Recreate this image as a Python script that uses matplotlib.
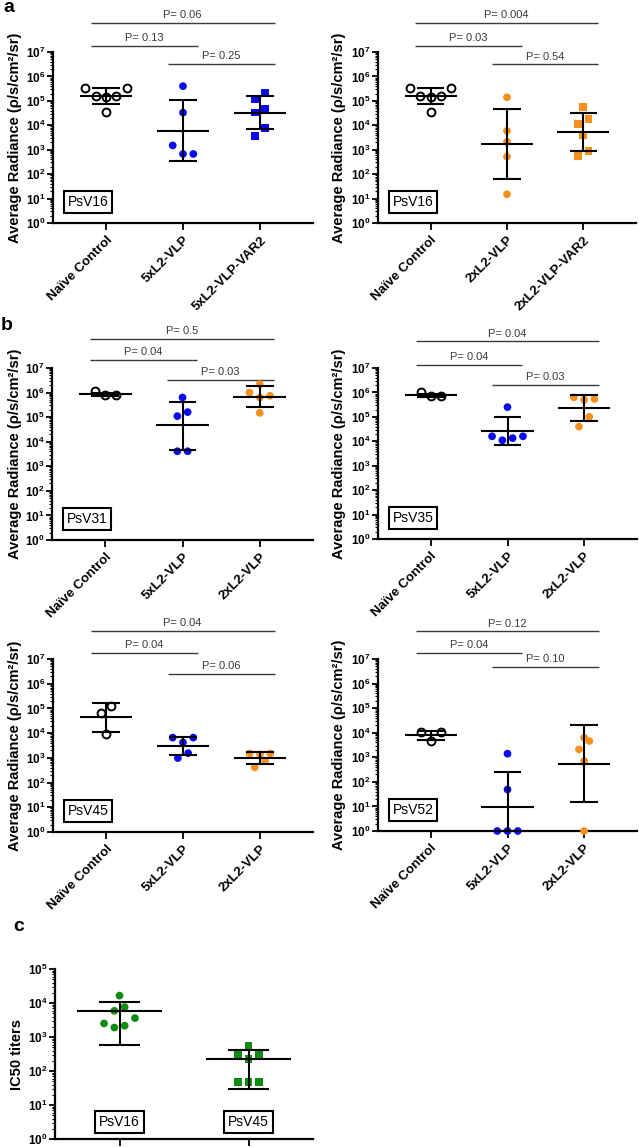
import numpy as np
import matplotlib
matplotlib.use("Agg")
import matplotlib.pyplot as plt
import matplotlib.transforms as mtransforms
from matplotlib.ticker import LogLocator, NullFormatter

plt.rcParams['font.family'] = ['Liberation Sans', 'DejaVu Sans']
plt.rcParams['font.weight'] = 'bold'
plt.rcParams['mathtext.fontset'] = 'custom'
plt.rcParams['mathtext.rm'] = 'Liberation Sans:bold'
plt.rcParams['mathtext.bf'] = 'Liberation Sans:bold'

# ---------------- data ----------------
# Panel a : PsV16 challenge (average radiance, p/s/cm2/sr)
naive_psv16 = [3.5e5, 3.4e5, 1.6e5, 1.45e5, 1.6e5, 3.5e4]
naive_psv16_stats = [1.6e5, 7.1e4, 3.4e5]          # centre, lower, upper

vlp5x_psv16 = [4.0e5, 3.3e4, 1.5e3, 6.7e2, 6.7e2]
vlp5x_psv16_stats = [6.0e3, 3.5e2, 1.07e5]

vlp5x_var2_psv16 = [2.2e5, 1.2e5, 4.6e4, 3.3e4, 8.0e3, 3.7e3]
vlp5x_var2_psv16_stats = [3.3e4, 7.2e3, 1.55e5]

vlp2x_psv16 = [1.4e5, 5.9e3, 2.1e3, 5.2e2, 15]
vlp2x_psv16_stats = [1.7e3, 62, 4.8e4]

vlp2x_var2_psv16 = [5.5e4, 1.85e4, 1.15e4, 3.9e3, 9.1e2, 5.7e2]
vlp2x_var2_psv16_stats = [5.4e3, 9.0e2, 3.2e4]

# Panel b : other PsV types
naive_psv31 = [1.17e6, 7.8e5, 7.8e5]
naive_psv31_stats = [8.5e5, 7.2e5, 1.0e6]
vlp5x_psv31 = [6.3e5, 1.6e5, 1.1e5, 4.1e3, 4.1e3]
vlp5x_psv31_stats = [4.6e4, 4.8e3, 4.3e5]
vlp2x_psv31 = [2.2e6, 1.0e6, 7.4e5, 6.3e5, 1.5e5]
vlp2x_psv31_stats = [6.9e5, 2.6e5, 1.9e6]

naive_psv35 = [1.0e6, 7.0e5, 7.4e5]
naive_psv35_stats = [7.6e5, 6.5e5, 9.0e5]
vlp5x_psv35 = [2.5e5, 1.6e4, 1.1e4, 1.35e4, 1.6e4]
vlp5x_psv35_stats = [2.7e4, 7.2e3, 1.0e5]
vlp2x_psv35 = [5.4e5, 5.0e5, 6.3e5, 1.0e5, 4.0e4]
vlp2x_psv35_stats = [2.3e5, 6.9e4, 8.1e5]

naive_psv45 = [1.2e5, 6.7e4, 9.6e3]
naive_psv45_stats = [4.5e4, 1.1e4, 1.7e5]
vlp5x_psv45 = [6.6e3, 6.6e3, 4.2e3, 1.55e3, 9.8e2]
vlp5x_psv45_stats = [3.1e3, 1.3e3, 7.0e3]
vlp2x_psv45 = [1.5e3, 1.4e3, 1.5e3, 7.6e2, 4.1e2]
vlp2x_psv45_stats = [9.8e2, 5.6e2, 1.65e3]

naive_psv52 = [1.05e4, 1.05e4, 4.6e3]
naive_psv52_stats = [8.3e3, 5.2e3, 1.2e4]
vlp5x_psv52 = [1.4e3, 49, 1, 1, 1]
vlp5x_psv52_stats = [9.7, 1, 2.55e2]
vlp2x_psv52 = [6.3e3, 4.6e3, 2.1e3, 7.1e2, 1]
vlp2x_psv52_stats = [5.5e2, 15.5, 2.0e4]

# Panel c : IC50 titers
ic50_psv16 = [1.65e4, 7.6e3, 5.9e3, 3.6e3, 2.5e3, 2.15e3, 1.9e3]
ic50_psv16_stats = [5.8e3, 5.9e2, 1.1e4]
ic50_psv45 = [5.6e2, 3.0e2, 3.2e2, 2.25e2, 47, 47, 47]
ic50_psv45_stats = [2.25e2, 30, 4.1e2]

# Categories / labels
cats_a_left = ['Naïve Control', '5xL2-VLP', '5xL2-VLP-VAR2']
cats_a_right = ['Naïve Control', '2xL2-VLP', '2xL2-VLP-VAR2']
cats_b = ['Naïve Control', '5xL2-VLP', '2xL2-VLP']
cats_c = ['PsV16', 'PsV45']

comparisons = [(0, 1), (1, 2), (0, 2)]
pvals_a_left = ['0.13', '0.25', '0.06']
pvals_a_right = ['0.03', '0.54', '0.004']
pvals_psv31 = ['0.04', '0.03', '0.5']
pvals_psv35 = ['0.04', '0.03', '0.04']
pvals_psv45 = ['0.04', '0.06', '0.04']
pvals_psv52 = ['0.04', '0.10', '0.12']

# ---------------- styling ----------------
W, H = 639, 1147
DPI = 100
BLUE = '#0a0af0'
ORANGE = '#f5901e'
GREEN = '#108a10'
PGRAY = '#3a3a3a'

fig = plt.figure(figsize=(W / DPI, H / DPI), dpi=DPI)


def make_axes(x0, x1, ytop, ybot):
    return fig.add_axes([x0 / W, 1 - ybot / H, (x1 - x0) / W, (ybot - ytop) / H])


def style_axes(ax, ncat, xpad, ymax, labels, show_labels=True):
    ax.set_yscale('log')
    ax.set_ylim(1, ymax)
    ax.set_xlim(-xpad, ncat - 1 + xpad)
    for s in ['top', 'right']:
        ax.spines[s].set_visible(False)
    for s in ['left', 'bottom']:
        ax.spines[s].set_linewidth(1.6)
    ax.yaxis.set_major_locator(LogLocator(base=10, numticks=20))
    ax.yaxis.set_minor_locator(LogLocator(base=10, subs=np.arange(2, 10), numticks=20))
    ax.yaxis.set_minor_formatter(NullFormatter())
    ax.tick_params(axis='y', which='major', length=4, width=1.3, pad=1.5, labelsize=8.5)
    ax.tick_params(axis='y', which='minor', length=2, width=0.8)
    ax.tick_params(axis='x', length=5, width=1.3, pad=3)
    ax.set_xticks(range(ncat))
    if show_labels:
        ax.set_xticklabels(labels, rotation=45, ha='right', va='top',
                           rotation_mode='anchor', fontsize=9.5, fontweight='bold')
    else:
        ax.set_xticklabels([''] * ncat)
    ax.patch.set_alpha(0)


def row_offsets(ax, values, slot_px=10.3, gap_px=10.5):
    vals = np.asarray(values, float)
    ypx = ax.transData.transform(np.column_stack([np.zeros_like(vals), vals]))[:, 1]
    order = np.argsort(ypx, kind='stable')
    slots = np.zeros(len(vals))
    i = 0
    while i < len(order):
        start = ypx[order[i]]
        j = i
        while j < len(order) and ypx[order[j]] - start < gap_px:
            j += 1
        row = order[i:j]
        n = len(row)
        if n % 2:
            seq = [0] + [s for k in range(1, n // 2 + 1) for s in (k, -k)]
        else:
            seq = [s for k in range(n // 2) for s in (-(k + 0.5), k + 0.5)]
        for idx, s in zip(row, seq):
            slots[idx] = s
        i = j
    p0 = ax.transData.transform((0, 1))[0]
    p1 = ax.transData.transform((1, 1))[0]
    return slots * slot_px / (p1 - p0)


def draw_group(ax, x, values, stats, marker, color, open_marker=False,
               mean_hw=0.34, cap_hw=0.18):
    dx = row_offsets(ax, values, slot_px=10.3)
    xs = x + dx
    if open_marker:
        ax.scatter(xs, values, marker=marker, s=32, facecolors='white',
                   edgecolors='black', linewidths=1.4, zorder=3, clip_on=False)
    else:
        ax.scatter(xs, values, marker=marker, s=31, facecolors=color,
                   edgecolors='none', zorder=3, clip_on=False)
    centre, lo, hi = stats
    kw = dict(color='black', lw=1.5, zorder=4, clip_on=False)
    ax.hlines(centre, x - mean_hw, x + mean_hw, **kw)
    ax.vlines(x, lo, hi, **kw)
    ax.hlines([lo, hi], x - cap_hw, x + cap_hw, **kw)


def draw_pvals(ax, pvals, levels, left=0.2, right=0.19):
    trans = mtransforms.blended_transform_factory(ax.transData, ax.transAxes)
    for (i, j), p, lev in zip(comparisons, pvals, levels):
        ax.plot([i - left, j + right], [lev, lev], color=PGRAY, lw=1.0,
                transform=trans, clip_on=False, solid_capstyle='butt')
        ax.annotate('P= ' + p, xy=((i - left + j + right) / 2, lev), xycoords=trans,
                    xytext=(0, 2.0), textcoords='offset points', ha='center', va='bottom',
                    fontsize=8, fontweight='normal', color=PGRAY, annotation_clip=False)


def psv_box(ax, text, x, y, transform=None):
    ax.text(x, y, text, transform=transform if transform is not None else ax.transAxes,
            ha='center', va='center', fontsize=10, fontweight='normal', zorder=5,
            bbox=dict(boxstyle='square,pad=0.28', fc='white', ec='black', lw=1.5))


def ylabel(text, xc, ytop, ybot, size=10.5):
    fig.text(xc / W, 1 - ((ytop + ybot) / 2) / H, text, rotation=90,
             ha='center', va='center', fontsize=size, fontweight='bold')


YLAB = 'Average Radiance (ρ/s/cm²/sr)'

panels = [
    # (x0, x1, ytop, ybot, cats, groups, pvals, levels, box, ylabel_x)
    (53, 313, 52, 223, cats_a_left,
     [(naive_psv16, naive_psv16_stats, 'o', 'k', True),
      (vlp5x_psv16, vlp5x_psv16_stats, 'o', BLUE, False),
      (vlp5x_var2_psv16, vlp5x_var2_psv16_stats, 's', BLUE, False)],
     pvals_a_left, (1.035, 0.93, 1.17), 'PsV16', 15.5),
    (378, 636, 52, 223, cats_a_right,
     [(naive_psv16, naive_psv16_stats, 'o', 'k', True),
      (vlp2x_psv16, vlp2x_psv16_stats, 'o', ORANGE, False),
      (vlp2x_var2_psv16, vlp2x_var2_psv16_stats, 's', ORANGE, False)],
     pvals_a_right, (1.037, 0.928, 1.17), 'PsV16', 339),
    (52, 313, 368, 540, cats_b,
     [(naive_psv31, naive_psv31_stats, 'o', 'k', True),
      (vlp5x_psv31, vlp5x_psv31_stats, 'o', BLUE, False),
      (vlp2x_psv31, vlp2x_psv31_stats, 'o', ORANGE, False)],
     pvals_psv31, (1.045, 0.93, 1.17), 'PsV31', 15),
    (378, 637, 368, 539, cats_b,
     [(naive_psv35, naive_psv35_stats, 'o', 'k', True),
      (vlp5x_psv35, vlp5x_psv35_stats, 'o', BLUE, False),
      (vlp2x_psv35, vlp2x_psv35_stats, 'o', ORANGE, False)],
     pvals_psv35, (1.02, 0.90, 1.155), 'PsV35', 339),
    (53, 313, 659, 832, cats_b,
     [(naive_psv45, naive_psv45_stats, 'o', 'k', True),
      (vlp5x_psv45, vlp5x_psv45_stats, 'o', BLUE, False),
      (vlp2x_psv45, vlp2x_psv45_stats, 'o', ORANGE, False)],
     pvals_psv45, (1.035, 0.913, 1.164), 'PsV45', 15),
    (378, 637, 659, 831, cats_b,
     [(naive_psv52, naive_psv52_stats, 'o', 'k', True),
      (vlp5x_psv52, vlp5x_psv52_stats, 'o', BLUE, False),
      (vlp2x_psv52, vlp2x_psv52_stats, 'o', ORANGE, False)],
     pvals_psv52, (1.035, 0.955, 1.16), 'PsV52', 339),
]

for x0, x1, ytop, ybot, cats, groups, pvals, levels, box, ylx in panels:
    ax = make_axes(x0, x1, ytop, ybot)
    style_axes(ax, len(cats), 0.69, 1e7, cats)
    for k, (vals, stats, mk, col, op) in enumerate(groups):
        draw_group(ax, k, vals, stats, mk, col, open_marker=op)
    draw_pvals(ax, pvals, levels)
    psv_box(ax, box, 0.135, 0.122)
    ylabel(YLAB, ylx, ytop, ybot)

# Panel c
axc = make_axes(55, 313, 969, 1139)
style_axes(axc, 2, 0.5, 1e5, cats_c, show_labels=False)
draw_group(axc, 0, ic50_psv16, ic50_psv16_stats, 'o', GREEN, mean_hw=0.33, cap_hw=0.16)
draw_group(axc, 1, ic50_psv45, ic50_psv45_stats, 's', GREEN, mean_hw=0.33, cap_hw=0.16)
tc = mtransforms.blended_transform_factory(axc.transData, axc.transAxes)
for k, name in enumerate(cats_c):
    psv_box(axc, name, k, 0.10, transform=tc)
ylabel('IC50 titers', 17, 969, 1139)

# panel letters
fig.text(3 / W, 1 - 12 / H, 'a', fontsize=14, fontweight='bold', ha='left', va='baseline')
fig.text(1 / W, 1 - 330 / H, 'b', fontsize=14, fontweight='bold', ha='left', va='baseline')
fig.text(13 / W, 1 - 931 / H, 'c', fontsize=14, fontweight='bold', ha='left', va='baseline')

fig.savefig('out.png', dpi=DPI)
